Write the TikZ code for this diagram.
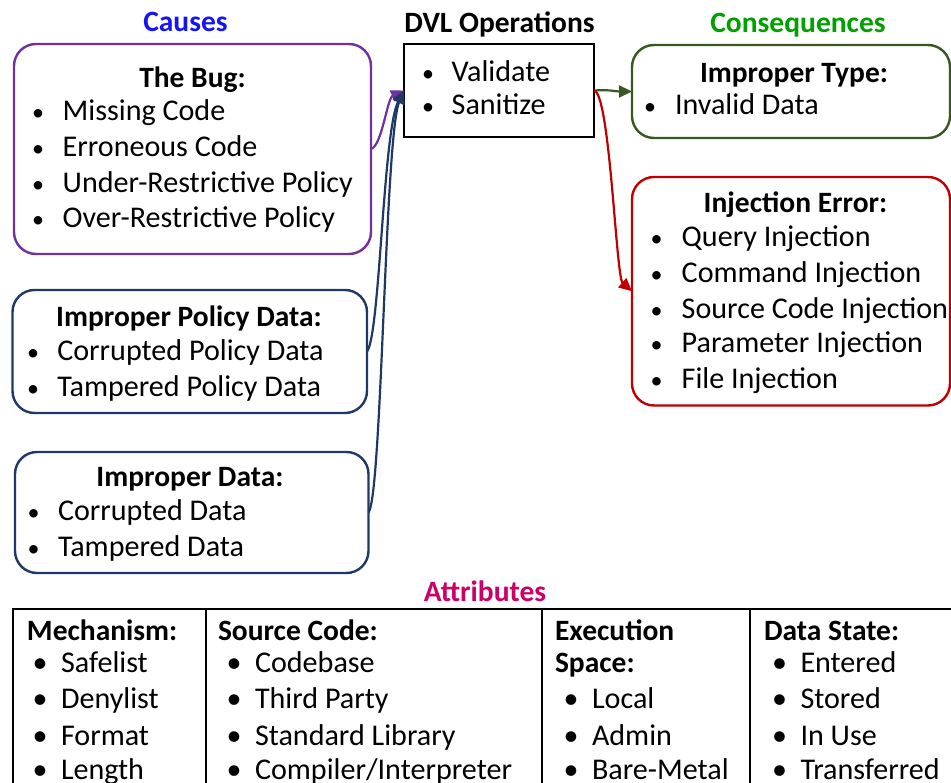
\documentclass[tikz,border=0pt]{standalone}
\usepackage{fontspec}
\setmainfont{Carlito}
\usetikzlibrary{arrows.meta}
\definecolor{bugpurple}{HTML}{7030A0}
\definecolor{navy}{HTML}{203864}
\definecolor{leaf}{HTML}{385723}
\definecolor{crimson}{HTML}{C00000}
\definecolor{hdrblue}{HTML}{1414F5}
\definecolor{hdrgreen}{HTML}{00A000}
\definecolor{hdrpink}{HTML}{CC0066}
\newcommand\bodyfont{\fontsize{30.1}{35}\selectfont}
\newcommand\headfont{\fontsize{29.5}{35}\selectfont\bfseries}
\begin{document}
\begin{tikzpicture}[x=1pt,y=-1pt,
  every node/.style={inner sep=0pt,outer sep=0pt},
  txt/.style={anchor=base west,font=\bodyfont},
  bul/.style={anchor=base,font=\fontsize{24}{30}\selectfont},
  tbul/.style={anchor=base,font=\fontsize{30}{35}\selectfont},
  ttl/.style={anchor=base,font=\headfont},
  tttl/.style={anchor=base west,font=\headfont},
  hdr/.style={anchor=base,font=\headfont},
  cbox/.style={draw,line width=2.4pt,rounded corners=22pt,rectangle},
  opbox/.style={draw,line width=2.4pt,rectangle},
  conn/.style={line width=2.2pt,-{Triangle[length=13pt,width=12pt]}},
  tbl/.style={line width=2pt,line join=miter}]
\useasboundingbox (0,0) rectangle (951,783);

% ---- column headings
\node[hdr,hdrblue]  (causes) at (185.5,32) {Causes};
\node[hdr,black]    (ops)    at (499.5,33) {DVL Operations};
\node[hdr,hdrgreen] (cons)   at (798,33)   {Consequences};
\node[hdr,hdrpink]  (attr)   at (485,601)  {Attributes};

% ---- boxes
\node[cbox,bugpurple,minimum width=357pt,minimum height=210pt] (bug) at (192.5,149) {};
\node[cbox,navy,minimum width=354.5pt,minimum height=123pt] (pol) at (189.75,351.5) {};
\node[cbox,navy,minimum width=353.5pt,minimum height=121pt] (dat) at (191.75,512.5) {};
\node[opbox,black,minimum width=190pt,minimum height=93pt] (dvl) at (499,90.5) {};
\node[cbox,leaf,minimum width=318pt,minimum height=93pt] (typ) at (791,91.5) {};
\node[cbox,crimson,minimum width=318pt,minimum height=228.5pt] (inj) at (791,291.25) {};

% ---- The Bug
\node[ttl] (bugT) at (192.5,88) {The Bug:};
\foreach \t/\y [count=\i] in {Missing Code/121,Erroneous Code/157,
    Under-Restrictive Policy/193,Over-Restrictive Policy/228}{
  \node[bul] (bugB\i) at (38,\y) {\textbullet};
  \node[txt] (bugI\i) at (62.7,\y) {\t};
}

% ---- Improper Policy Data
\node[ttl] (polT) at (189,327) {Improper Policy Data:};
\foreach \t/\y [count=\i] in {Corrupted Policy Data/361,Tampered Policy Data/396.7}{
  \node[bul] (polB\i) at (33,\y) {\textbullet};
  \node[txt] (polI\i) at (57.3,\y) {\t};
}

% ---- Improper Data
\node[ttl] (datT) at (190,486) {Improper Data:};
\foreach \t/\y [count=\i] in {Corrupted Data/520.7,Tampered Data/556.7}{
  \node[bul] (datB\i) at (33.5,\y) {\textbullet};
  \node[txt] (datI\i) at (58,\y) {\t};
}

% ---- DVL operations
\foreach \t/\y [count=\i] in {Validate/81.7,Sanitize/115}{
  \node[bul] (dvlB\i) at (428,\y) {\textbullet};
  \node[txt] (dvlI\i) at (451.7,\y) {\t};
}

% ---- Improper Type
\node[ttl] (typT) at (794,82.7) {Improper Type:};
\node[bul] (typB1) at (650,115) {\textbullet};
\node[txt] (typI1) at (675,115) {Invalid Data};

% ---- Injection Error
\node[ttl] (injT) at (795.5,213) {Injection Error:};
\foreach \t/\y [count=\i] in {Query Injection/246.7,Command Injection/282.3,
    Source Code Injection/318.3,Parameter Injection/352.7,File Injection/388.3}{
  \node[bul] (injB\i) at (656.7,\y) {\textbullet};
  \node[txt] (injI\i) at (681.7,\y) {\t};
}

% ---- connectors
\draw[conn,bugpurple] (bug.east) .. controls +(11,-3) and +(-17,8) .. (dvl.west);
\draw[conn,navy] (pol.east) .. controls +(13,-16) and +(-21,40) .. (dvl.west);
\draw[conn,navy] (dat.east) .. controls +(13.5,-17) and +(-19,45) .. (dvl.west);
\draw[conn,leaf] (dvl.east) .. controls +(18,-1) and +(-18,0) .. (typ.west);
\draw[conn,crimson] (dvl.east) .. controls +(16,2) and +(-16,-14) .. (inj.west);

% ---- attributes table
\draw[tbl] (13,795) -- (13,609) -- (960,609);
\draw[tbl] (206,609) -- (206,795);
\draw[tbl] (541.5,609) -- (541.5,795);
\draw[tbl] (750,609) -- (750,795);

\node[tttl] (mechH) at (27,640) {Mechanism:};
\foreach \t/\y [count=\i] in {Safelist/672.5,Denylist/708.5,Format/745,Length/779.5}{
  \node[tbul] (mechB\i) at (40,\y) {\textbullet};
  \node[txt] (mechI\i) at (61,\y) {\t};
}

\node[tttl] (srcH) at (218,640) {Source Code:};
\foreach \t/\y [count=\i] in {Codebase/672.5,Third Party/708.5,Standard Library/745,
    {Compiler/Interpreter}/779.5}{
  \node[tbul] (srcB\i) at (234,\y) {\textbullet};
  \node[txt] (srcI\i) at (255,\y) {\t};
}

\node[tttl] (exeH1) at (555,640) {Execution};
\node[tttl] (exeH2) at (555,672.5) {Space:};
\foreach \t/\y [count=\i] in {Local/708.5,Admin/745,Bare-Metal/779.5}{
  \node[tbul] (exeB\i) at (571,\y) {\textbullet};
  \node[txt] (exeI\i) at (592,\y) {\t};
}

\node[tttl] (dstH) at (764,640) {Data State:};
\foreach \t/\y [count=\i] in {Entered/672.5,Stored/708.5,In Use/745,Transferred/779.5}{
  \node[tbul] (dstB\i) at (779.5,\y) {\textbullet};
  \node[txt] (dstI\i) at (800.5,\y) {\t};
}
\end{tikzpicture}
\end{document}
